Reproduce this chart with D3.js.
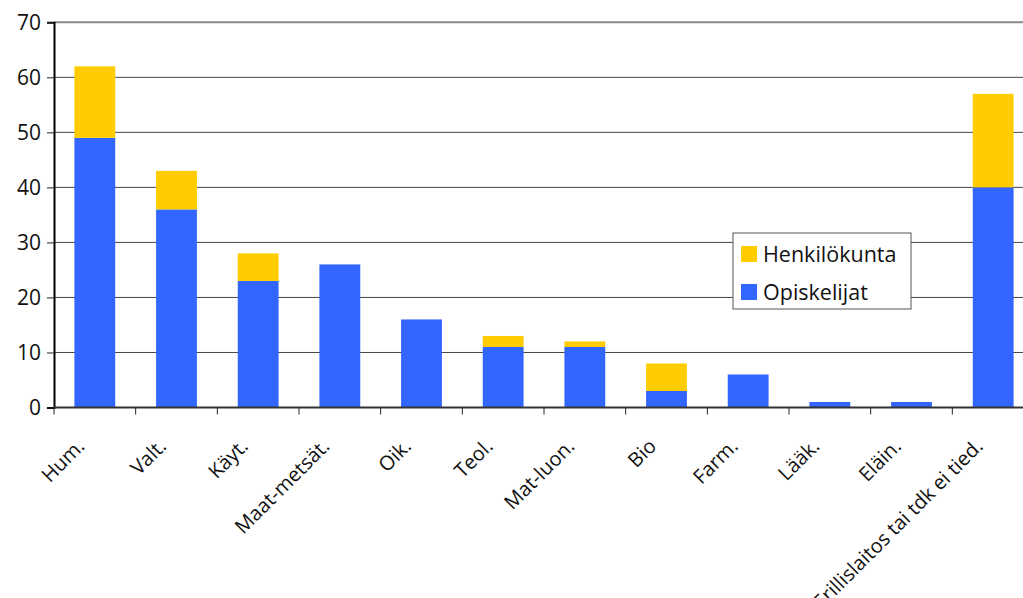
<!DOCTYPE html>
<html>
<head>
<meta charset="utf-8">
<script src="https://cdn.jsdelivr.net/npm/d3@7"></script>
<style>
  body { margin: 0; background: #fff; }
  text { font-family: "Open Sans", "Noto Sans", sans-serif; fill: #111; }
</style>
</head>
<body>
<div id="chart"></div>
<script>
var categories = ["Hum.", "Valt.", "Käyt.", "Maat-metsät.", "Oik.", "Teol.", "Mat-luon.", "Bio", "Farm.", "Lääk.", "Eläin.", "Erillislaitos tai tdk ei tied."];
var opiskelijat = [49, 36, 23, 26, 16, 11, 11, 3, 6, 1, 1, 40];
var henkilokunta = [13, 7, 5, 0, 0, 2, 1, 5, 0, 0, 0, 17];
var yTicks = [0, 10, 20, 30, 40, 50, 60, 70];
var seriesNames = ["Henkilökunta", "Opiskelijat"];
var colors = { "Opiskelijat": "#3366FF", "Henkilökunta": "#FFCC00" };

var w = 1023, h = 598;
var plotLeft = 54, plotRight = 1034, plotTop = 22.3, plotBottom = 407.5;

var svg = d3.select("#chart").append("svg")
  .attr("width", w)
  .attr("height", h);

var x = d3.scaleBand()
  .domain(categories)
  .range([plotLeft, plotRight])
  .paddingInner(0.5)
  .paddingOuter(0.25);

var y = d3.scaleLinear()
  .domain([0, 70])
  .range([plotBottom, plotTop]);

// gridlines
svg.append("g").selectAll("line")
  .data(yTicks.filter(function(d) { return d > 0; }))
  .enter().append("line")
  .attr("x1", plotLeft)
  .attr("x2", w)
  .attr("y1", function(d) { return y(d); })
  .attr("y2", function(d) { return y(d); })
  .attr("stroke", function(d) { return d == 70 ? "#888" : "#444"; })
  .attr("stroke-width", function(d) { return d == 70 ? 2 : 1; });

// stacked bars
var rows = categories.map(function(c, i) {
  return { cat: c, "Opiskelijat": opiskelijat[i], "Henkilökunta": henkilokunta[i] };
});
var stack = d3.stack().keys(["Opiskelijat", "Henkilökunta"])(rows);

svg.append("g").selectAll("g")
  .data(stack)
  .enter().append("g")
  .attr("fill", function(s) { return colors[s.key]; })
  .selectAll("rect")
  .data(function(s) { return s.filter(function(d) { return d[1] > d[0]; }); })
  .enter().append("rect")
  .attr("x", function(d) { return x(d.data.cat); })
  .attr("width", x.bandwidth())
  .attr("y", function(d) { return y(d[1]); })
  .attr("height", function(d) { return y(d[0]) - y(d[1]); });

// y axis
var yAxis = svg.append("g")
  .attr("transform", "translate(" + plotLeft + ",0)")
  .call(d3.axisLeft(y).tickValues(yTicks).tickSize(7).tickPadding(6));
yAxis.select(".domain").attr("stroke", "#000").attr("stroke-width", 2);
yAxis.selectAll(".tick line").attr("stroke", "#222");
yAxis.selectAll("text").style("font-size", "21px").attr("fill", "#111");

// x axis: ticks on category boundaries
var xg = svg.append("g");
xg.append("line")
  .attr("x1", plotLeft).attr("x2", w)
  .attr("y1", plotBottom).attr("y2", plotBottom)
  .attr("stroke", "#333").attr("stroke-width", 2);
var step = x.step();
xg.selectAll("line.tk")
  .data(d3.range(categories.length + 1))
  .enter().append("line")
  .attr("class", "tk")
  .attr("x1", function(i) { return plotLeft + i * step; })
  .attr("x2", function(i) { return plotLeft + i * step; })
  .attr("y1", plotBottom)
  .attr("y2", plotBottom + 7)
  .attr("stroke", "#222");

xg.selectAll("text")
  .data(categories)
  .enter().append("text")
  .attr("transform", function(d) {
    return "translate(" + (x(d) + x.bandwidth() / 2 - 9) + "," + (plotBottom + 40) + ") rotate(-45)";
  })
  .attr("text-anchor", "end")
  .style("font-size", "20px")
  .text(function(d) { return d; });

// legend
var lg = svg.append("g").attr("transform", "translate(733,233)");
lg.append("rect")
  .attr("width", 178).attr("height", 76)
  .attr("fill", "#fff").attr("stroke", "#555").attr("stroke-width", 1);
var items = lg.selectAll("g.item")
  .data(seriesNames)
  .enter().append("g")
  .attr("class", "item")
  .attr("transform", function(d, i) { return "translate(8," + (13 + i * 38) + ")"; });
items.append("rect")
  .attr("width", 16).attr("height", 16)
  .attr("fill", function(d) { return colors[d]; });
items.append("text")
  .attr("x", 22).attr("y", 16)
  .style("font-size", "21.5px")
  .text(function(d) { return d; });
</script>
</body>
</html>
